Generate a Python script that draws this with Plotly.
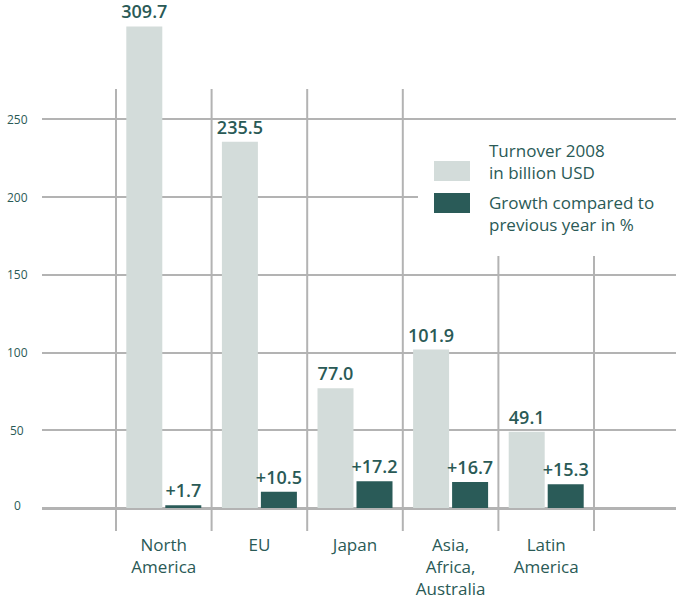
import plotly.graph_objects as go

# Regions and values
regions = ["North<br>America", "EU", "Japan", "Asia,<br>Africa,<br>Australia", "Latin<br>America"]
turnover_2008 = [309.7, 235.5, 77.0, 101.9, 49.1]      # billion USD
growth_pct = [1.7, 10.5, 17.2, 16.7, 15.3]              # % vs previous year
y_ticks = [0, 50, 100, 150, 200, 250]
legend_labels = ["Turnover 2008<br>in billion USD", "Growth compared to<br>previous year in %"]

LIGHT = "#d3dcda"
DARK = "#2a5b58"
GRID = "#b3b3b3"
TEXT = "#2a5a56"
FONT = "Open Sans"

W, H = 679, 600
# plot area in pixels
PL, PR, PT, PB = 42, 676, 0, 531
ZERO_PX = 508
PX_PER_UNIT = 1.555
PX_PER_CAT = 95.6


def fx(px):
    return (px - PL) / (PR - PL)


def fy(py):
    return (PB - py) / (PB - PT)


x_idx = list(range(len(regions)))
x_lo = -0.5 - (116 - PL) / PX_PER_CAT
x_hi = x_lo + (PR - PL) / PX_PER_CAT
y_lo = -(PB - ZERO_PX) / PX_PER_UNIT
y_hi = (ZERO_PX - PT) / PX_PER_UNIT

label_font = dict(family=FONT, size=18, color=TEXT, weight=600)

fig = go.Figure()
fig.add_trace(go.Bar(
    x=x_idx, y=turnover_2008, marker=dict(color=LIGHT, line=dict(width=0)),
    text=[f"{v:.1f}" for v in turnover_2008], textposition="outside",
    constraintext="none", cliponaxis=False, textfont=label_font,
    name="turnover", hoverinfo="skip",
))
fig.add_trace(go.Bar(
    x=x_idx, y=growth_pct, marker=dict(color=DARK, line=dict(width=0)),
    text=[f"+{v:.1f}" for v in growth_pct], textposition="outside",
    constraintext="none", cliponaxis=False, textfont=label_font,
    name="growth", hoverinfo="skip",
))

shapes = []
# vertical separators between regions
sep_tops = [89, 89, 89, 89, 256, 256]
for i, top in enumerate(sep_tops):
    xv = i - 0.5
    shapes.append(dict(type="line", xref="x", yref="paper", x0=xv, x1=xv,
                       y0=fy(top), y1=0, line=dict(color=GRID, width=2), layer="above"))
# legend panel
shapes.append(dict(type="rect", xref="paper", yref="paper", x0=fx(418), x1=fx(682),
                   y0=fy(256), y1=fy(128), fillcolor="white", line=dict(width=0), layer="above"))
swatch_tops = [161, 193]
for col, top in zip([LIGHT, DARK], swatch_tops):
    shapes.append(dict(type="rect", xref="paper", yref="paper", x0=fx(434), x1=fx(470),
                       y0=fy(top + 20), y1=fy(top), fillcolor=col, line=dict(width=0), layer="above"))

annotations = []
for t in y_ticks:
    annotations.append(dict(text=str(t), xref="paper", yref="y", x=fx(17), y=t,
                            xanchor="center", yanchor="middle", showarrow=False,
                            yshift=3 if t == 0 else 0,
                            font=dict(family=FONT, size=12, color=TEXT)))
for lab, cy in zip(legend_labels, [162, 213.5]):
    annotations.append(dict(text=lab, xref="paper", yref="paper", x=fx(487), y=fy(cy),
                            xanchor="left", yanchor="middle", align="left", showarrow=False,
                            font=dict(family=FONT, size=17, color=TEXT)))

fig.update_layout(
    width=W, height=H,
    margin=dict(l=PL, r=W - PR, t=PT, b=H - PB),
    paper_bgcolor="white", plot_bgcolor="white",
    barmode="group", bargap=0.184, bargroupgap=0.077,
    showlegend=False,
    shapes=shapes, annotations=annotations,
    xaxis=dict(range=[x_lo, x_hi], tickvals=x_idx, ticktext=regions, ticks="",
               showgrid=False, zeroline=False, showline=False, fixedrange=True,
               tickfont=dict(family=FONT, size=17, color=TEXT), ticklabelstandoff=2),
    yaxis=dict(range=[y_lo, y_hi], tickvals=y_ticks, showticklabels=False, ticks="",
               showgrid=True, gridcolor=GRID, gridwidth=2,
               zeroline=True, zerolinecolor=GRID, zerolinewidth=3, showline=False,
               fixedrange=True),
)

fig.write_html("out.html")
